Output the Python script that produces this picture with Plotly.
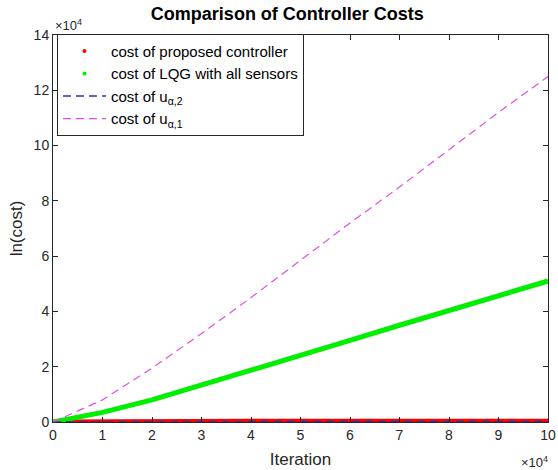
import plotly.graph_objects as go

# Data (iterations, cost values)
iterations = [0, 10000, 20000, 30000, 40000, 50000, 60000, 70000, 80000, 90000, 100000]
cost_proposed = [0, 150, 200, 220, 230, 240, 250, 255, 260, 265, 270]
cost_lqg = [0, 3500, 8000, 13300, 18600, 24000, 29500, 35000, 40300, 45700, 51000]
cost_u2 = [0, 100, 120, 130, 140, 150, 155, 160, 165, 170, 175]
cost_u1 = [0, 8000, 19500, 32000, 45000, 58500, 72000, 85000, 98500, 112000, 125000]

x_tick_vals = [0, 10000, 20000, 30000, 40000, 50000, 60000, 70000, 80000, 90000, 100000]
x_tick_text = ["0", "1", "2", "3", "4", "5", "6", "7", "8", "9", "10"]
y_tick_vals = [0, 20000, 40000, 60000, 80000, 100000, 120000, 140000]
y_tick_text = ["0", "2", "4", "6", "8", "10", "12", "14"]

FONT = "Liberation Sans, Arial, Helvetica, sans-serif"
TXT = "#262626"

fig = go.Figure()

# Actual curves (legend handled by dummy traces to mimic MATLAB legend)
fig.add_trace(go.Scatter(x=iterations, y=cost_proposed, mode="lines",
                         line=dict(color="#ff0000", width=5), showlegend=False, hoverinfo="skip"))
fig.add_trace(go.Scatter(x=iterations, y=cost_lqg, mode="lines",
                         line=dict(color="#00ee00", width=5), showlegend=False, hoverinfo="skip"))
fig.add_trace(go.Scatter(x=iterations, y=cost_u2, mode="lines",
                         line=dict(color="#3030a0", width=1.5, dash="8px,5px"), showlegend=False, hoverinfo="skip"))
fig.add_trace(go.Scatter(x=iterations, y=cost_u1, mode="lines",
                         line=dict(color="#e050e0", width=1.2, dash="8px,5px"), showlegend=False, hoverinfo="skip"))

# Legend entries
fig.add_trace(go.Scatter(x=[None], y=[None], mode="markers",
                         marker=dict(color="#ff0000", size=4), name="cost of proposed controller"))
fig.add_trace(go.Scatter(x=[None], y=[None], mode="markers",
                         marker=dict(color="#00ee00", size=4), name="cost of LQG with all sensors"))
fig.add_trace(go.Scatter(x=[None], y=[None], mode="lines",
                         line=dict(color="#3030a0", width=1.5, dash="8px,5px"), name="cost of u<sub>α,2</sub>"))
fig.add_trace(go.Scatter(x=[None], y=[None], mode="lines",
                         line=dict(color="#e050e0", width=1.2, dash="8px,5px"), name="cost of u<sub>α,1</sub>"))

axis_common = dict(showline=True, linecolor="#262626", linewidth=1, mirror="ticks",
                   ticks="inside", ticklen=5, tickcolor="#262626", showgrid=False, zeroline=False,
                   automargin=False, tickfont=dict(family=FONT, size=14, color=TXT))

fig.update_layout(
    width=558, height=470,
    margin=dict(l=53, r=10, t=35, b=48),
    paper_bgcolor="white", plot_bgcolor="white",
    title=dict(text="<b>Comparison of Controller Costs</b>", x=0.515, xanchor="center",
               y=0.985, yanchor="top", font=dict(family=FONT, size=18, color="black")),
    xaxis=dict(range=[0, 100000], tickvals=x_tick_vals, ticktext=x_tick_text,
               title=dict(text="Iteration", font=dict(family=FONT, size=17, color=TXT), standoff=11),
               **axis_common),
    yaxis=dict(range=[0, 140000], tickvals=y_tick_vals, ticktext=y_tick_text,
               title=dict(text="ln(cost)", font=dict(family=FONT, size=17, color=TXT), standoff=6),
               **axis_common),
    legend=dict(x=0.008, y=1.003, xanchor="left", yanchor="top", bgcolor="white",
                bordercolor="#262626", borderwidth=1, font=dict(family=FONT, size=15, color="black"),
                tracegroupgap=0, itemwidth=43),
    showlegend=True,
)

fig.add_annotation(text="×10<sup>4</sup>", xref="paper", yref="paper", x=0, y=1, xanchor="left",
                   yanchor="bottom", yshift=0, showarrow=False, font=dict(family=FONT, size=13, color=TXT))
fig.add_annotation(text="×10<sup>4</sup>", xref="paper", yref="paper", x=1, y=0, xanchor="right",
                   yanchor="top", yshift=-30, xshift=2, showarrow=False, font=dict(family=FONT, size=13, color=TXT))

fig.write_html("out.html", config={"displayModeBar": False},
               post_script="document.body.style.margin='0px';")
